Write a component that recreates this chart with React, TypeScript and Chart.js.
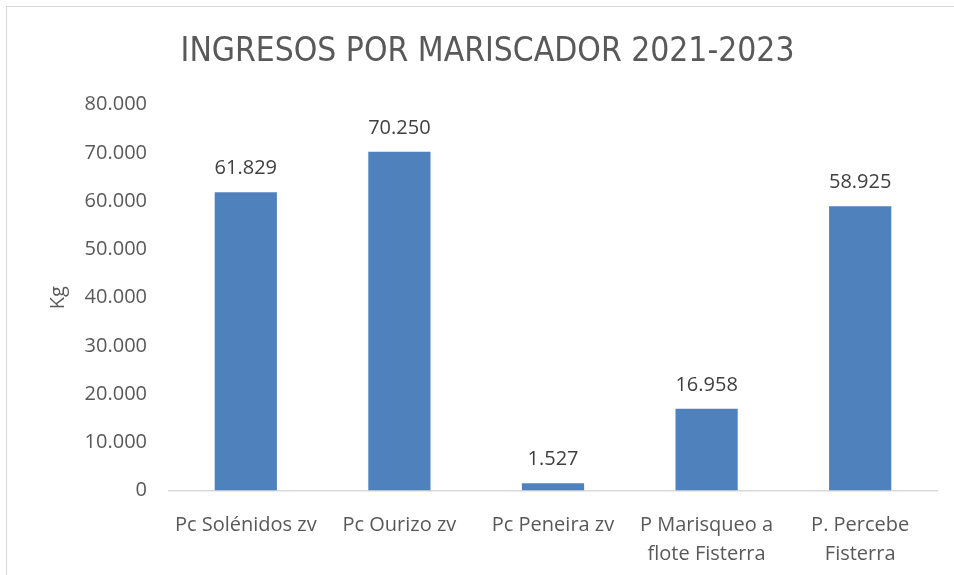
import React, { useEffect, useRef } from "react";
import { Chart, registerables } from "chart.js";

Chart.register(...registerables);

const TITLE = "INGRESOS POR MARISCADOR 2021-2023";
const Y_TITLE = "Kg";
const categories: string[][] = [
  ["Pc Solénidos zv"],
  ["Pc Ourizo zv"],
  ["Pc Peneira zv"],
  ["P Marisqueo a", "flote Fisterra"],
  ["P. Percebe", "Fisterra"],
];
const values: number[] = [61829, 70250, 1527, 16958, 58925];
const Y_MIN = 0;
const Y_MAX = 80000;
const Y_STEP = 10000;

const fmt = (v: number) =>
  Math.round(v)
    .toString()
    .replace(/\B(?=(\d{3})+(?!\d))/g, ".");

const BAR_COLOR = "#4f81bd";
const TEXT_COLOR = "#595959";
const LABEL_COLOR = "#404040";
const FONT = "'Open Sans', sans-serif";
const TITLE_FONT = "'DejaVu Sans Condensed', 'Open Sans', sans-serif";

const dataLabels = {
  id: "dataLabels",
  afterDatasetsDraw(chart: any) {
    const ctx = chart.ctx;
    const meta = chart.getDatasetMeta(0);
    ctx.save();
    ctx.font = `20px ${FONT}`;
    ctx.fillStyle = LABEL_COLOR;
    ctx.textAlign = "center";
    ctx.textBaseline = "alphabetic";
    meta.data.forEach((bar: any, i: number) => {
      ctx.fillText(fmt(values[i]), bar.x, bar.y - 18);
    });
    ctx.restore();
  },
};

export default function App() {
  const ref = useRef<HTMLCanvasElement>(null);
  useEffect(() => {
    document.body.style.margin = "0";
    document.body.style.overflow = "hidden";
    const chart = new Chart(ref.current!, {
      type: "bar",
      data: {
        labels: categories,
        datasets: [
          {
            data: values,
            backgroundColor: BAR_COLOR,
            barPercentage: 0.405,
            categoryPercentage: 1,
          },
        ],
      },
      options: {
        animation: false,
        responsive: false,
        layout: { padding: { left: 38, right: 17, top: 6, bottom: 0 } },
        plugins: {
          legend: { display: false },
          tooltip: { enabled: false },
          title: {
            display: true,
            text: TITLE,
            color: TEXT_COLOR,
            font: { family: TITLE_FONT, size: 33.3, weight: "normal" },
            padding: { top: 26, bottom: 32.7 },
          },
        },
        scales: {
          x: {
            grid: { display: false },
            border: { display: true, color: "#d9d9d9", width: 1.5 },
            ticks: {
              color: TEXT_COLOR,
              font: { family: FONT, size: 20, lineHeight: 1.45 },
              padding: 12,
              maxRotation: 0,
              autoSkip: false,
            },
            afterFit: (s: any) => {
              s.height = 84.5;
            },
          },
          y: {
            min: Y_MIN,
            max: Y_MAX,
            grid: { display: false, drawTicks: false },
            border: { display: false },
            ticks: {
              stepSize: Y_STEP,
              color: TEXT_COLOR,
              font: { family: FONT, size: 20 },
              padding: 22,
              callback: (v: any) => fmt(Number(v)),
            },
            title: {
              display: true,
              text: Y_TITLE,
              color: TEXT_COLOR,
              font: { family: FONT, size: 20 },
              padding: { top: 8, bottom: 0 },
            },
            afterFit: (s: any) => {
              s.width = 131;
            },
          },
        },
      },
      plugins: [dataLabels],
    });
    return () => chart.destroy();
  }, []);
  return (
    <div style={{ position: "relative", width: 954, height: 575, overflow: "hidden", background: "#fff" }}>
      <div
        style={{
          position: "absolute",
          left: 6,
          top: 6,
          width: 960,
          height: 600,
          border: "1px solid #d9d9d9",
          boxSizing: "border-box",
        }}
      />
      <canvas ref={ref} width={954} height={575} style={{ position: "absolute", left: 0, top: 0 }} />
    </div>
  );
}
